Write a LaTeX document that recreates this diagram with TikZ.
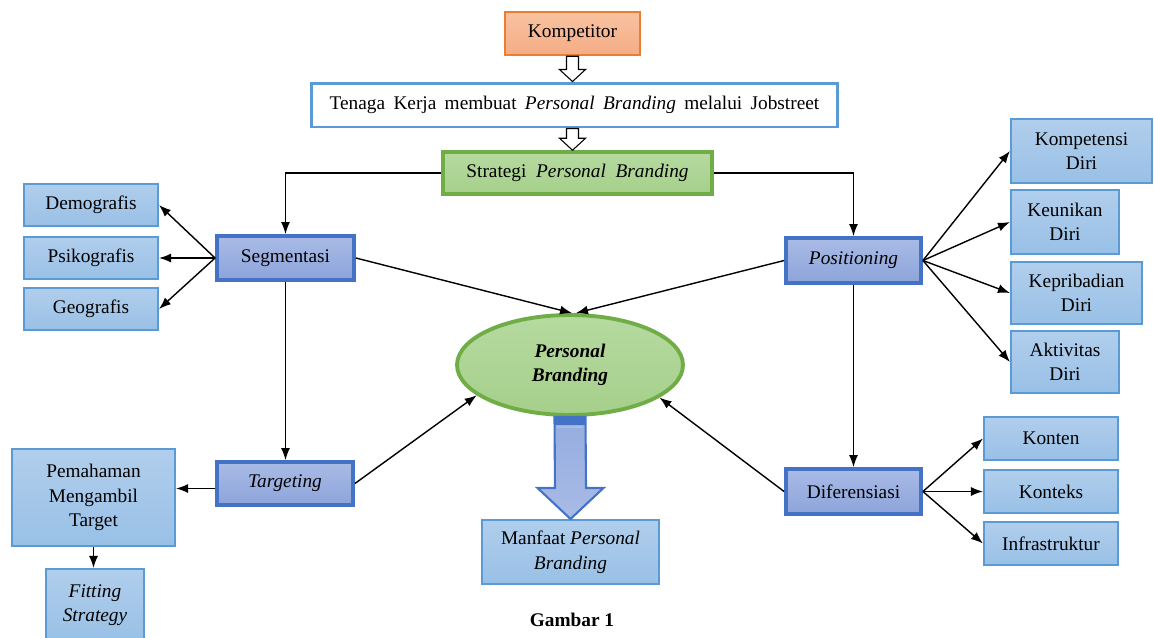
\documentclass[tikz,border=0pt]{standalone}
\usepackage{fontspec}
\setmainfont{Liberation Serif}
\usepackage{tikz}
\usetikzlibrary{calc, arrows.meta, positioning, shapes.geometric}

\definecolor{orangeln}{HTML}{ED7D31}
\definecolor{orangetop}{HTML}{F8C2A0}
\definecolor{orangebot}{HTML}{F4AD85}
\definecolor{blueln}{HTML}{5B9BD5}
\definecolor{bluetop}{HTML}{B1CEEC}
\definecolor{bluebot}{HTML}{98C0E6}
\definecolor{darkln}{HTML}{4472C4}
\definecolor{darktop}{HTML}{A9BBE6}
\definecolor{darkbot}{HTML}{8DA4DA}
\definecolor{greenln}{HTML}{70AD47}
\definecolor{greentop}{HTML}{B6DAA0}
\definecolor{greenbot}{HTML}{A5CF8A}

\tikzset{
  box/.style={rectangle, align=center, inner sep=1pt, font=\fontsize{11}{14}\selectfont},
  subbox/.style={box, draw=blueln, line width=1.2pt, top color=bluetop, bottom color=bluebot},
  mainbox/.style={box, draw=darkln, line width=2.2pt, top color=darktop, bottom color=darkbot},
  conn/.style={-{Latex[length=2.4mm, width=1.8mm]}, line width=0.8pt},
  hollow/.style={draw=black, fill=white, line width=0.6pt},
}

\begin{document}
\begin{tikzpicture}[x=0.02cm, y=-0.02cm]
\useasboundingbox (0,0) rectangle (1154,637);

% Top of the flow
\node[box, draw=orangeln, line width=1.4pt, top color=orangetop, bottom color=orangebot,
  minimum width=2.7cm, minimum height=0.86cm] (komp) at (572.5,33.5) {Kompetitor};
\node[box, draw=blueln, line width=1.7pt, fill=white,
  minimum width=10.54cm, minimum height=0.88cm] (tenaga) at (574.5,105)
  {\spaceskip=0.43em Tenaga Kerja membuat \textit{Personal Branding} melalui Jobstreet};
\node[box, draw=greenln, line width=2pt, top color=greentop, bottom color=greenbot,
  minimum width=5.38cm, minimum height=0.84cm] (strategi) at (577.5,173)
  {\spaceskip=0.5em Strategi \textit{Personal Branding}};

% Hollow arrows
\coordinate (h1) at (komp.south);
\coordinate (h1e) at (komp.south |- tenaga.north);
\coordinate (h2) at (komp.south |- tenaga.south);
\coordinate (h2e) at (komp.south |- strategi.north);
\draw[hollow] ($(h1)+(-6,0)$) -- ($(h1)+(6,0)$) -- ($(h1e)+(6,-12)$) -- ($(h1e)+(13,-12)$)
  -- (h1e) -- ($(h1e)+(-13,-12)$) -- ($(h1e)+(-6,-12)$) -- cycle;
\draw[hollow] ($(h2)+(-6,0)$) -- ($(h2)+(6,0)$) -- ($(h2e)+(6,-12)$) -- ($(h2e)+(13,-12)$)
  -- (h2e) -- ($(h2e)+(-13,-12)$) -- ($(h2e)+(-6,-12)$) -- cycle;

% Main boxes
\node[mainbox, minimum width=2.74cm, minimum height=0.88cm] (segmen) at (285.5,258) {Segmentasi};
\node[mainbox, minimum width=2.72cm, minimum height=0.86cm] (target) at (285,483.5) {\textit{Targeting}};
\node[mainbox, minimum width=2.7cm, minimum height=0.9cm] (posisi) at (853.5,260.5) {\textit{Positioning}};
\node[mainbox, minimum width=2.7cm, minimum height=0.9cm] (difer) at (853.5,491.5) {Diferensiasi};

% Center
\node[ellipse, draw=greenln, line width=2.2pt, top color=greentop, bottom color=greenbot,
  minimum width=4.52cm, minimum height=2cm, align=center,
  font=\fontsize{11}{14}\selectfont\bfseries\itshape] (pb) at (570,365) {Personal\\Branding};
\node[subbox, minimum width=3.54cm, minimum height=1.28cm] (manfaat) at (570.5,552)
  {Manfaat \textit{Personal}\\\textit{Branding}};
\node[box, font=\fontsize{11}{14}\selectfont\bfseries] (gambar) at (572,620) {Gambar 1};

% Left side
\node[subbox, minimum width=2.68cm, minimum height=0.84cm] (demo) at (91,205) {Demografis};
\node[subbox, minimum width=2.68cm, minimum height=0.84cm] (psiko) at (91,258) {Psikografis};
\node[subbox, minimum width=2.68cm, minimum height=0.84cm] (geo) at (91,309) {Geografis};
\node[subbox, minimum width=3.26cm, minimum height=1.94cm] (paham) at (93.5,497.5)
  {Pemahaman\\Mengambil\\Target};
\node[subbox, minimum width=1.96cm, minimum height=1.44cm] (fitting) at (95,605)
  {\textit{Fitting}\\\textit{Strategy}};

% Right side
\node[subbox, minimum width=2.82cm, minimum height=1.28cm] (kompet) at (1081.5,151) {Kompetensi\\Diri};
\node[subbox, minimum width=2.16cm, minimum height=1.28cm] (unik) at (1065,222) {Keunikan\\Diri};
\node[subbox, minimum width=2.62cm, minimum height=1.24cm] (pribadi) at (1076.5,293) {Kepribadian\\Diri};
\node[subbox, minimum width=2.16cm, minimum height=1.24cm] (aktiv) at (1065,362) {Aktivitas\\Diri};
\node[subbox, minimum width=2.68cm, minimum height=0.86cm] (konten) at (1051,438.5) {Konten};
\node[subbox, minimum width=2.68cm, minimum height=0.86cm] (konteks) at (1051,491.5) {Konteks};
\node[subbox, minimum width=2.68cm, minimum height=0.86cm] (infra) at (1051,543.5) {Infrastruktur};

% Big arrow to Manfaat
\draw[draw=darkln, line width=1.2pt, top color=darktop!80!darkln, bottom color=darktop]
  ($(pb.south)+(-15.5,0)$) -- ($(pb.south)+(15.5,0)$) -- ($(manfaat.north)+(15.5,-31)$)
  -- ($(manfaat.north)+(33,-31)$) -- (manfaat.north) -- ($(manfaat.north)+(-33,-31)$)
  -- ($(manfaat.north)+(-15.5,-31)$) -- cycle;
\fill[darkln] ($(pb.south)+(-15.5,0)$) rectangle ($(pb.south)+(15.5,8)$);
\draw[darktop, line width=0.8pt] ($(pb.south)+(-13,10)$) -- ($(pb.south)+(13,10)$);

% Connectors
\draw[conn] (strategi.west) -| (segmen.north);
\draw[conn] (strategi.east) -| (posisi.north);
\draw[conn] (segmen.west) -- (demo.east);
\draw[conn] (segmen.west) -- (psiko.east);
\draw[conn] (segmen.west) -- (geo.east);
\draw[conn] (segmen.south) -- (segmen.south |- target.north);
\draw[conn] (segmen.east) -- ([xshift=0.04cm]pb.north);
\draw[conn] (posisi.west) -- ([xshift=0.12cm]pb.north);
\draw[conn] (target.east) -- (pb.198);
\draw[conn] (difer.west) -- (pb.340);
\draw[conn] ([yshift=-0.1cm]target.west) -- ([yshift=-0.1cm]target.west -| paham.east);
\draw[conn] (paham.south) -- (paham.south |- fitting.north);
\draw[conn] (posisi.south) -- (difer.north);
\draw[conn] (posisi.east) -- (kompet.west);
\draw[conn] (posisi.east) -- (unik.west);
\draw[conn] (posisi.east) -- (pribadi.west);
\draw[conn] (posisi.east) -- (aktiv.west);
\draw[conn] (difer.east) -- (konten.west);
\draw[conn] (difer.east) -- (konteks.west);
\draw[conn] (difer.east) -- (infra.west);

\end{tikzpicture}
\end{document}
